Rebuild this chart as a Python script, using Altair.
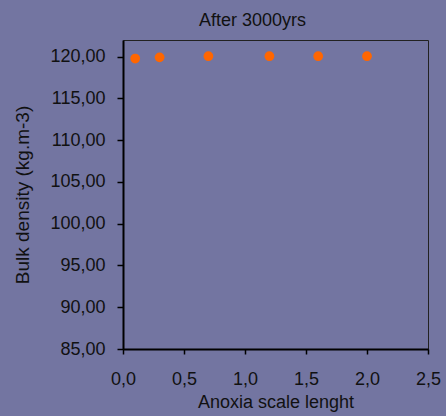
import altair as alt
import pandas as pd

# Anoxia scale length vs. bulk density after 3000 years
anoxia_scale = [0.1, 0.3, 0.7, 1.2, 1.6, 2.0]
bulk_density = [119.78, 119.92, 120.06, 120.06, 120.06, 120.06]

x_ticks = [0.0, 0.5, 1.0, 1.5, 2.0, 2.5]
y_ticks = [85, 90, 95, 100, 105, 110, 115, 120]

df = pd.DataFrame({"anoxia": anoxia_scale, "density": bulk_density})

BG = "#7375A1"
FONT = "Liberation Sans"

points = alt.Chart(df).mark_circle(size=95, color="#FF6600", opacity=1).encode(
    x=alt.X(
        "anoxia:Q",
        scale=alt.Scale(domain=[0, 2.5], nice=False, zero=False),
        axis=alt.Axis(
            values=x_ticks,
            title="Anoxia scale lenght",
            labelExpr="replace(format(datum.value, '.1f'), '.', ',')",
            labelFlush=False,
            grid=False,
            tickSize=5,
            labelPadding=16,
            titlePadding=5,
        ),
    ),
    y=alt.Y(
        "density:Q",
        scale=alt.Scale(domain=[85, 122], nice=False, zero=False),
        axis=alt.Axis(
            values=y_ticks,
            title="Bulk density (kg.m-3)",
            titleFontSize=19,
            labelExpr="replace(format(datum.value, '.2f'), '.', ',')",
            labelFlush=False,
            grid=False,
            tickSize=6,
            labelPadding=12,
            titlePadding=17,
        ),
    ),
)

chart = (
    points.properties(
        width=305,
        height=309,
        background=BG,
        padding={"left": 123, "top": 40, "right": 18, "bottom": 67},
        autosize=alt.AutoSizeParams(type="none"),
        title=alt.TitleParams(
            "After 3000yrs",
            font=FONT,
            fontSize=18,
            fontWeight="normal",
            color="#111111",
            anchor="middle",
            dx=-23,
            offset=10,
        ),
    )
    .configure_view(stroke="#222222", strokeWidth=1, fill=BG)
    .configure_axis(
        domainColor="#000000",
        domainWidth=2,
        tickColor="#000000",
        tickWidth=1.5,
        labelFont=FONT,
        labelFontSize=18,
        labelColor="#111111",
        titleFont=FONT,
        titleFontSize=18,
        titleFontWeight="normal",
        titleColor="#111111",
    )
)

chart.save("out.html", embed_options={"renderer": "svg", "actions": False})
